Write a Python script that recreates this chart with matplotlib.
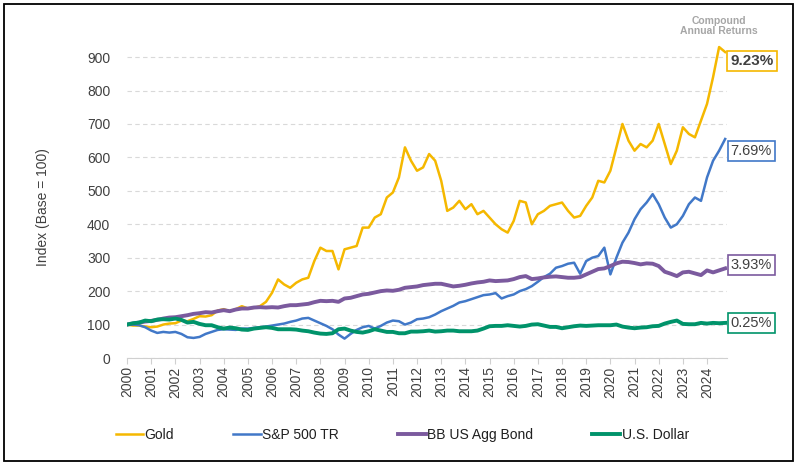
import numpy as np
import matplotlib
matplotlib.use("Agg")
from matplotlib import pyplot as plt
from matplotlib.patches import Rectangle

plt.rcParams['font.family'] = ['Liberation Sans', 'DejaVu Sans']

# quarterly index values, base 2000 = 100
years = np.arange(2000, 2025, 0.25)

gold = [100, 97, 97, 94, 92, 94, 100, 103, 104, 112, 110, 117, 125, 124, 128, 142,
        146, 140, 146, 155, 148, 150, 155, 168, 195, 235, 220, 210, 225, 235, 240, 290,
        330, 320, 320, 265, 325, 330, 335, 390, 390, 420, 430, 480, 495, 540, 630, 590,
        560, 570, 610, 590, 530, 440, 450, 470, 445, 460, 430, 440, 420, 400, 385, 375,
        410, 470, 465, 400, 430, 440, 455, 460, 465, 440, 420, 425, 455, 480, 530, 525,
        560, 630, 700, 650, 620, 640, 630, 650, 700, 640, 580, 620, 690, 670, 660, 710,
        760, 840, 930, 915]
spx = [100, 100, 98, 92, 82, 75, 78, 76, 78, 72, 62, 60, 63, 72, 78, 84,
       86, 85, 84, 88, 88, 90, 92, 94, 97, 100, 103, 108, 112, 118, 120, 112,
       104, 96, 86, 70, 58, 72, 84, 92, 96, 88, 96, 106, 112, 110, 100, 106,
       116, 118, 122, 130, 140, 148, 156, 166, 170, 176, 182, 188, 190, 194, 178, 185,
       190, 200, 206, 215, 228, 242, 252, 270, 275, 282, 285, 252, 290, 300, 305, 330,
       250, 300, 345, 375, 415, 445, 465, 490, 460, 420, 390, 400, 425, 460, 480, 470,
       540, 590, 620, 655]
agg = [100, 103, 106, 109, 111, 114, 118, 121, 122, 125, 128, 132, 134, 137, 136, 140,
       143, 140, 145, 148, 148, 151, 152, 151, 152, 151, 155, 158, 158, 160, 162, 167,
       171, 170, 171, 168, 178, 180, 185, 190, 192, 196, 200, 202, 201, 204, 210, 212,
       214, 218, 220, 222, 222, 218, 214, 216, 219, 223, 226, 228, 232, 230, 231, 232,
       236, 242, 245, 236, 238, 241, 243, 244, 242, 240, 240, 242, 250, 258, 266, 268,
       275, 283, 288, 287, 284, 280, 283, 282, 275, 258, 252, 245, 256, 258, 253, 248,
       262, 256, 262, 268]
usd = [100, 104, 106, 112, 110, 115, 116, 115, 118, 114, 106, 108, 102, 98, 98, 92,
       88, 91, 89, 85, 84, 88, 90, 92, 90, 86, 86, 86, 85, 82, 80, 76,
       73, 72, 74, 86, 88, 82, 78, 76, 80, 86, 82, 78, 78, 74, 74, 79,
       79, 80, 82, 79, 80, 82, 82, 80, 80, 80, 82, 88, 95, 96, 96, 98,
       96, 94, 96, 100, 101, 97, 93, 93, 89, 92, 95, 97, 96, 97, 98, 98,
       98, 100, 94, 91, 89, 91, 92, 95, 96, 103, 108, 112, 102, 101, 101, 105,
       103, 105, 104, 105]

names = ["Gold", "S&P 500 TR", "BB US Agg Bond", "U.S. Dollar"]
cagr = ["9.23%", "7.69%", "3.93%", "0.25%"]
label_pos = [888, 619, 278, 105]
colors = ["#F5B800", "#4178C8", "#7B5A9E", "#00936A"]
widths = [1.8, 1.8, 2.8, 2.8]

fig = plt.figure(figsize=(7.99, 4.67), dpi=100)
ax = fig.add_axes([0.159, 0.2334, 0.751, 0.716])

for series, name, c, lw in zip([gold, spx, agg, usd], names, colors, widths):
    ax.plot(years, series, color=c, lw=lw, label=name, solid_joinstyle='round')

ax.set_xlim(2000, 2024.83)
ax.set_ylim(0, 1000)
ax.set_yticks(range(0, 1000, 100))
ax.set_xticks(range(2000, 2025))
ax.set_xticklabels([str(y) for y in range(2000, 2025)], rotation=90)
ax.tick_params(axis='y', length=0, labelsize=10, colors='#404040', pad=12)
ax.tick_params(axis='x', length=4, color='#d0d0d0', labelsize=10, labelcolor='#404040', pad=2)
ax.grid(axis='y', color='#d9d9d9', linestyle=(0, (4, 3)), lw=0.8)
ax.set_axisbelow(True)
for s in ['top', 'right', 'left']:
    ax.spines[s].set_visible(False)
ax.spines['bottom'].set_color('#d0d0d0')

ax.set_ylabel("Index (Base = 100)", fontsize=10, color='#404040')
ax.yaxis.set_label_coords(-0.128, 0.452)

# CAGR boxes at the right end
for i in range(4):
    bold = i == 0
    ax.text(2024.97, label_pos[i], cagr[i], ha='left', va='center',
            fontsize=11 if bold else 10.5, fontweight='bold' if bold else 'normal',
            color='#404040', clip_on=False,
            bbox=dict(boxstyle='square,pad=0.2', fc='white', ec=colors[i], lw=1.2))
ax.text(2024.5, 962, "Compound\nAnnual Returns", ha='center', va='bottom',
        fontsize=7.5, fontweight='bold', color='#a6a6a6', linespacing=1.0,
        clip_on=False)

fig.legend(loc='center left', bbox_to_anchor=(0.129, 0.069), ncol=4, frameon=False,
           fontsize=10, handlelength=2.0, handletextpad=0.1, columnspacing=4.25,
           labelcolor='#202020')

fig.patches.append(Rectangle((4 / 799, 6 / 467), 789 / 799, 457 / 467, transform=fig.transFigure,
                             fill=False, ec='black', lw=1.3))

fig.savefig("out.png", dpi=100)
